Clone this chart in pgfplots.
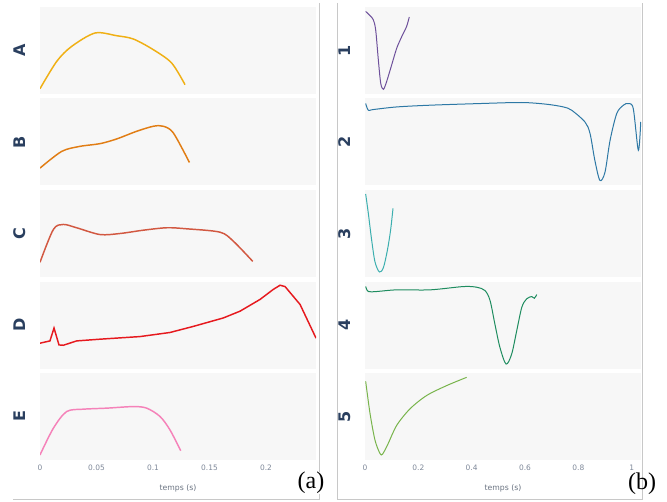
\documentclass[border=0pt]{standalone}
\usepackage{fontspec}
\setmainfont{DejaVu Sans}
\newfontfamily\serifpanel{Liberation Serif}
\usepackage{pgfplots}
\pgfplotsset{compat=1.18}

\definecolor{bggray}{RGB}{247,247,247}
\definecolor{framegray}{RGB}{200,200,200}
\definecolor{labnavy}{RGB}{42,63,95}
\definecolor{tickgray}{RGB}{125,135,152}
\definecolor{cA}{RGB}{240,176,20}
\definecolor{cB}{RGB}{225,125,20}
\definecolor{cC}{RGB}{210,88,65}
\definecolor{cD}{RGB}{230,25,30}
\definecolor{cE}{RGB}{245,130,185}
\definecolor{c1}{RGB}{110,80,155}
\definecolor{c2}{RGB}{45,120,165}
\definecolor{c3}{RGB}{60,175,175}
\definecolor{c4}{RGB}{30,140,95}
\definecolor{c5}{RGB}{120,180,75}

% one pixel of the reference = 0.75pt
\pgfplotsset{
  panel/.style={
    width=207pt, height=65.25pt, scale only axis, anchor=south west,
    ymin=0, ymax=1, axis line style={draw=none},
    xtick=\empty, ytick=\empty, major tick length=0pt,
    axis background/.style={fill=bggray},
    ylabel style={at={(axis description cs:-0.073,0.5)}, anchor=center,
      font=\bfseries\fontsize{12}{12}\selectfont, text=labnavy},
  },
  left/.style={panel, xmin=0, xmax=0.2442},
  right/.style={panel, xmin=0, xmax=1.035},
  bottomrow/.style={
    xticklabel style={font=\fontsize{5.6}{6}\selectfont, text=tickgray, yshift=-0.5pt},
    xlabel={temps (s)},
    xlabel style={at={(axis description cs:0.5,0)}, anchor=center, yshift=-21pt,
      font=\fontsize{5.8}{6}\selectfont, text=tickgray!85!black},
  },
  lw/.style={line width=1.1pt, smooth, tension=0.5},
  rw/.style={line width=0.75pt, smooth, tension=0.5},
}

\begin{document}
\begin{tikzpicture}
\path[use as bounding box] (0,0) rectangle (500.25pt,-376.5pt);

% frames
\draw[framegray, line width=0.6pt] (239.25pt,-2.25pt) -- (239.25pt,-374.25pt) -- (9.75pt,-374.25pt);
\draw[framegray, line width=0.6pt] (252.75pt,-2.25pt) -- (252.75pt,-374.25pt) -- (481.5pt,-374.25pt) -- (481.5pt,-2.25pt);

% ---------- left column (a) ----------
\begin{axis}[left, at={(30pt,-70.5pt)}, ylabel={A}]
\addplot[lw, cA] coordinates {
(0,0.061) (0.0148,0.375) (0.028,0.547) (0.0487,0.701) (0.0678,0.670)
(0.0826,0.632) (0.1003,0.509) (0.1165,0.356) (0.1283,0.107)};
\end{axis}

\begin{axis}[left, at={(30pt,-139.125pt)}, ylabel={B}]
\addplot[lw, cB] coordinates {
(0,0.20) (0.0192,0.392) (0.0354,0.450) (0.0531,0.481) (0.0678,0.535)
(0.0855,0.623) (0.1003,0.681) (0.1091,0.681) (0.118,0.604) (0.1322,0.265)};
\end{axis}

\begin{axis}[left, at={(30pt,-207.75pt)}, ylabel={C}]
\addplot[lw, cC] coordinates {
(0,0.169) (0.0118,0.546) (0.0206,0.604) (0.0324,0.566) (0.0531,0.488)
(0.0708,0.500) (0.0914,0.538) (0.1121,0.566) (0.1298,0.554) (0.1593,0.515)
(0.1711,0.411) (0.1882,0.180)};
\end{axis}

\begin{axis}[left, at={(30pt,-276.375pt)}, ylabel={D}]
\addplot[line width=1.1pt, cD] coordinates {
(0,0.291) (0.0088,0.317) (0.0124,0.465) (0.0168,0.271) (0.0206,0.267)
(0.0324,0.317) (0.0531,0.337) (0.0885,0.367) (0.1150,0.414) (0.1357,0.484)
(0.1622,0.581) (0.1770,0.659) (0.1947,0.794) (0.2065,0.910) (0.2124,0.957)
(0.2168,0.942) (0.2301,0.736) (0.2442,0.349)};
\end{axis}

\begin{axis}[left, bottomrow, at={(30pt,-345pt)}, ylabel={E},
  xtick={0,0.05,0.1,0.15,0.2}, xticklabels={0,0.05,0.1,0.15,0.2}]
\addplot[lw, cE] coordinates {
(0,0.058) (0.0118,0.365) (0.0236,0.557) (0.0383,0.584) (0.0590,0.596)
(0.0826,0.614) (0.0944,0.596) (0.1062,0.500) (0.1150,0.346) (0.1245,0.107)};
\end{axis}

% ---------- right column (b) ----------
\begin{axis}[right, at={(273.75pt,-70.5pt)}, ylabel={1}]
\addplot[rw, c1] coordinates {
(0.0025,0.949) (0.019,0.900) (0.031,0.854) (0.040,0.738) (0.050,0.392)
(0.059,0.123) (0.069,0.054) (0.081,0.142) (0.100,0.334) (0.119,0.527)
(0.138,0.661) (0.156,0.776) (0.166,0.885)};
\end{axis}

\begin{axis}[right, at={(273.75pt,-139.125pt)}, ylabel={2}]
\addplot[rw, c2] coordinates {
(0.0025,0.942) (0.0125,0.865) (0.031,0.873) (0.119,0.903) (0.244,0.923)
(0.431,0.942) (0.587,0.954) (0.681,0.934) (0.744,0.903) (0.775,0.865)
(0.825,0.730) (0.844,0.596) (0.862,0.288) (0.881,0.058) (0.900,0.154)
(0.919,0.519) (0.944,0.827) (0.969,0.923) (0.987,0.942) (1.006,0.884)
(1.025,0.404) (1.034,0.730)};
\end{axis}

\begin{axis}[right, at={(273.75pt,-207.75pt)}, ylabel={3}]
\addplot[rw, c3] coordinates {
(0.0025,0.954) (0.0125,0.731) (0.025,0.423) (0.0375,0.173) (0.054,0.058)
(0.069,0.108) (0.084,0.308) (0.096,0.539) (0.105,0.789)};
\end{axis}

\begin{axis}[right, at={(273.75pt,-276.375pt)}, ylabel={4}]
\addplot[rw, c4] coordinates {
(0.0025,0.942) (0.0125,0.885) (0.044,0.885) (0.119,0.904) (0.244,0.904)
(0.369,0.942) (0.419,0.934) (0.45,0.896) (0.469,0.781) (0.487,0.512)
(0.506,0.242) (0.529,0.051) (0.550,0.166) (0.569,0.435) (0.588,0.704)
(0.606,0.800) (0.625,0.827) (0.635,0.807) (0.644,0.850)};
\end{axis}

\begin{axis}[right, bottomrow, at={(273.75pt,-345pt)}, ylabel={5},
  xtick={0,0.2,0.4,0.6,0.8,1}, xticklabels={0,0.2,0.4,0.6,0.8,1}]
\addplot[rw, c5] coordinates {
(0.0025,0.904) (0.019,0.532) (0.0375,0.228) (0.056,0.076) (0.066,0.068)
(0.087,0.190) (0.119,0.399) (0.169,0.589) (0.231,0.741) (0.306,0.855)
(0.381,0.950)};
\end{axis}

% panel tags
\node[fill=white, inner sep=0.3pt, font=\serifpanel\fontsize{18}{18}\selectfont] at (233.25pt,-362.25pt) {(a)};
\node[inner sep=0pt, font=\serifpanel\fontsize{18}{18}\selectfont] at (481.5pt,-363pt) {(b)};
\end{tikzpicture}
\end{document}
